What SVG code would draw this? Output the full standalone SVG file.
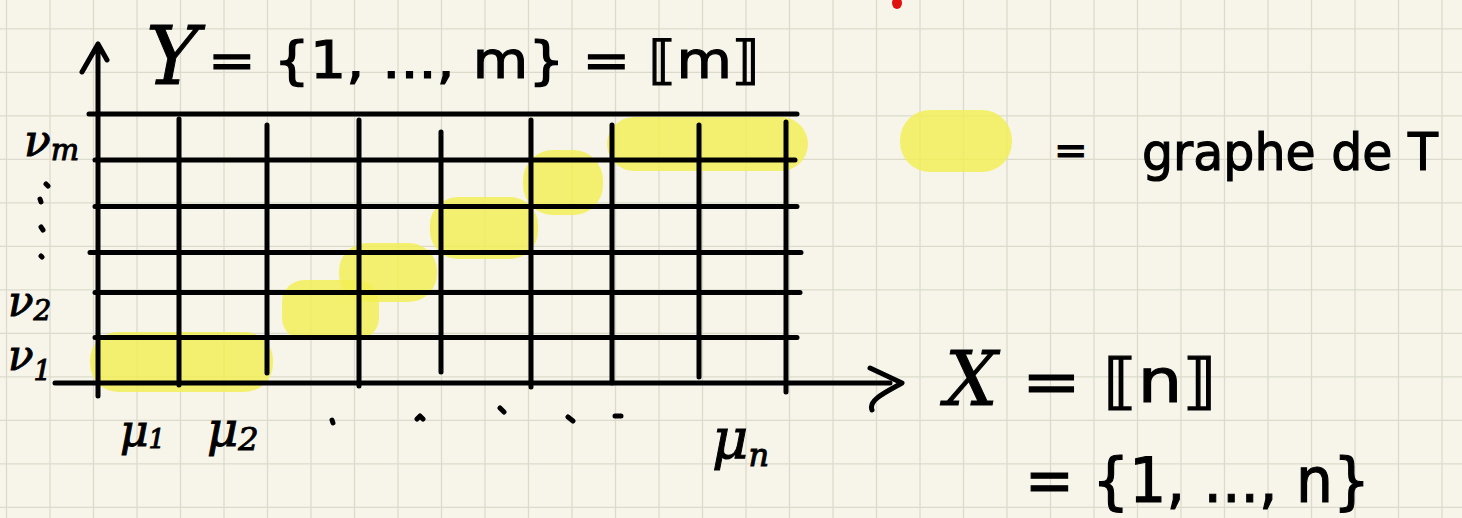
<svg xmlns="http://www.w3.org/2000/svg" width="1462" height="518" viewBox="0 0 1462 518">
<style>
.ink{stroke:#000;stroke-width:5;stroke-linecap:round;stroke-linejoin:round;fill:none}
.hl{fill:#f3ef50;fill-opacity:0.8}
.hw{font-family:"DejaVu Sans",sans-serif;fill:#000;stroke:#000;stroke-width:1.2}
.it{font-family:"DejaVu Serif",serif;font-style:italic;fill:#000;stroke:#000;stroke-width:1}
</style>
<rect width="1462" height="518" fill="#f7f5ea"/>
<g id="paper" stroke="#dcdbcb" stroke-width="1.3">
<path d="M6.5 0V518M50 0V518M93.5 0V518M137 0V518M180.5 0V518M224 0V518M267.5 0V518M311 0V518M354.5 0V518M398 0V518M441.5 0V518M485 0V518M528.5 0V518M572 0V518M615.5 0V518M659 0V518M702.5 0V518M746 0V518M789.5 0V518M833 0V518M876.5 0V518M920 0V518M963.5 0V518M1007 0V518M1050.5 0V518M1094 0V518M1137.5 0V518M1181 0V518M1224.5 0V518M1268 0V518M1311.5 0V518M1355 0V518M1398.5 0V518M1442 0V518"/>
<path d="M0 28.8H1462M0 72.3H1462M0 115.8H1462M0 159.3H1462M0 202.8H1462M0 246.3H1462M0 289.8H1462M0 333.3H1462M0 376.8H1462M0 420.3H1462M0 463.8H1462M0 507.3H1462"/>
</g>
<g id="redmark"><ellipse cx="897" cy="3" rx="5" ry="6" fill="#e01010"/></g>
<g id="graph-T">
<rect class="hl" x="90" y="332" width="183" height="60" rx="28"/>
<rect class="hl" x="282" y="280" width="97" height="60" rx="22"/>
<rect class="hl" x="339" y="243" width="98" height="59" rx="28"/>
<rect class="hl" x="430" y="197" width="108" height="62" rx="28"/>
<rect class="hl" x="523" y="150" width="80" height="65" rx="30"/>
<rect class="hl" x="607" y="117" width="201" height="54" rx="27"/>
</g>
<g id="grid">
<path class="ink" d="M89 114H797M95 160H795M95 206.5H797M90 252.5H801M95 292.5H800M95 337.5H797"/>
<path class="ink" d="M179 119V385M267 125V373M359 120V386M441 132V372M531 120V387M612 125V383M699 125V377M786 122V392"/>
</g>
<g id="connectors">
<g id="y-axis"><path class="ink" d="M98 396V44M82 72L98 44L107 60"/></g>
<g id="x-axis"><path class="ink" d="M55 383H890M870 368L902 383C886 392 868 400 872 410"/></g>
</g>
<g id="y-labels">
<text class="it" x="24" y="156" font-size="44">ν<tspan font-size="30" dy="4">m</tspan></text>
<path class="ink" stroke-width="3" d="M46 184l2 2M40 199l1 3M41 227l2 3M41 256l1 1"/>
<text class="it" x="8" y="316" font-size="42">ν<tspan font-size="28" dy="4">2</tspan></text>
<text class="it" x="8" y="370" font-size="42">ν<tspan font-size="28" dy="10">1</tspan></text>
</g>
<g id="x-labels">
<text class="it" x="120" y="446" font-size="44">μ<tspan font-size="26" dy="2">1</tspan></text>
<text class="it" x="207" y="446" font-size="48">μ<tspan font-size="32" dy="4">2</tspan></text>
<text class="it" x="712" y="458" font-size="56">μ<tspan font-size="32" dy="8">n</tspan></text>
<path class="ink" stroke-width="3" d="M332 420l1 3M417 419l3-3l3 3M500 408l4 4M568 417l5 4M615 416h6"/>
</g>
<g id="title">
<text class="it" x="146" y="84" font-size="80">Y</text>
<text class="hw" x="208" y="78" font-size="52" textLength="552" lengthAdjust="spacingAndGlyphs">= {1, ..., m} = ⟦m⟧</text>
</g>
<g id="legend">
<rect class="hl" x="900" y="110" width="112" height="62" rx="30"/>
<text class="hw" x="1054" y="164" font-size="40">=</text>
<text class="hw" x="1142" y="170" font-size="52" textLength="296" lengthAdjust="spacingAndGlyphs">graphe de T</text>
</g>
<g id="x-set">
<text class="it" x="945" y="405" font-size="74">X</text>
<text class="hw" x="1022" y="402" font-size="60" textLength="195" lengthAdjust="spacingAndGlyphs">= ⟦n⟧</text>
<text class="hw" x="1025" y="502" font-size="62" textLength="345" lengthAdjust="spacingAndGlyphs">= {1, ..., n}</text>
</g>
</svg>
